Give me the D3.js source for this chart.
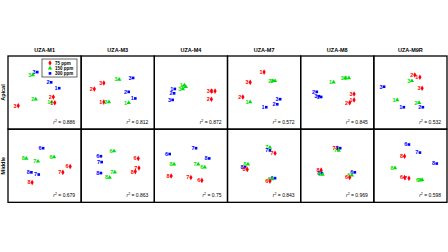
<!DOCTYPE html>
<html>
<head>
<meta charset="utf-8">
<script src="https://cdn.jsdelivr.net/npm/d3@7"></script>
<style>
  body { margin: 0; background: #fff; }
  svg { display: block; font-family: "Liberation Sans", Arial, sans-serif; }
</style>
</head>
<body>
<div id="chart"></div>
<script>
// panel names and row labels
const panels = ["UZA-M1", "UZA-M3", "UZA-M4", "UZA-M7", "UZA-M8", "UZA-M9R"];
const rows = ["Apical", "Middle"];
const concs = ["75 ppm", "150 ppm", "300 ppm"];

// r² values per row
const r2Apical = ["0.886", "0.812", "0.872", "0.572", "0.845", "0.532"];
const r2Middle = ["0.679", "0.863", "0.75", "0.843", "0.969", "0.598"];

// points: [label, concentration index, x, y]  (panel scores, 0-10)
const apical = [
  [["3",2,4.0,2.2],["3",1,3.4,2.6],["2",2,5.9,3.6],["1",2,7.0,4.4],["2",0,6.2,5.6],["2",1,3.8,5.9],["1",1,6.0,6.3],["1",0,6.4,6.4],["3",0,1.4,6.8]],
  [["3",0,3.1,3.7],["3",1,5.2,3.2],["3",2,7.1,3.0],["2",0,1.8,4.5],["2",2,6.5,4.9],["1",2,7.4,5.8],["1",0,3.1,6.3],["2",1,3.8,6.3],["1",1,6.5,6.4]],
  [["1",2,2.8,4.5],["2",2,2.7,5.1],["3",2,2.5,6.0],["1",1,4.1,4.0],["2",1,4.3,4.2],["3",1,3.9,4.5],["3",0,7.8,4.8],["1",0,8.3,4.8],["2",0,7.8,5.9]],
  [["1",0,5.0,2.2],["3",0,3.1,3.6],["2",1,6.2,3.4],["3",1,6.5,3.4],["2",0,2.1,5.6],["1",1,3.1,6.3],["3",2,7.2,5.9],["2",2,6.8,6.6],["1",2,5.3,7.0]],
  [["1",1,4.5,3.6],["3",1,6.1,3.0],["2",1,6.6,3.0],["2",2,2.2,4.9],["3",2,2.5,5.5],["1",2,2.8,5.6],["3",0,7.3,5.2],["1",0,7.3,6.0],["2",0,6.7,6.4]],
  [["2",0,5.6,2.6],["1",0,6.3,2.9],["3",1,5.2,3.4],["3",0,6.6,4.4],["3",2,1.4,4.2],["1",1,3.2,6.0],["1",2,4.1,7.0],["2",1,6.2,6.4],["2",2,6.7,7.0]]
];
const middle = [
  [["6",2,4.8,2.6],["8",1,2.5,4.0],["7",1,4.1,4.4],["6",1,6.3,3.8],["6",0,8.5,5.1],["7",0,7.5,5.9],["8",2,3.2,5.9],["7",2,4.2,6.2],["8",0,3.3,7.3]],
  [["6",1,4.5,3.0],["6",2,2.7,3.7],["7",2,2.8,4.5],["6",0,7.8,4.0],["7",0,7.9,5.3],["8",0,7.4,5.8],["7",1,4.6,5.9],["8",2,2.7,6.0],["8",1,3.9,6.6]],
  [["7",2,5.7,2.6],["6",2,2.1,3.4],["8",2,7.5,4.0],["8",1,2.7,4.8],["7",1,6.0,4.8],["6",1,6.9,5.2],["8",0,2.3,6.4],["7",0,5.0,6.6],["6",0,6.5,7.0]],
  [["7",1,5.8,2.5],["7",2,5.8,2.9],["7",0,6.5,3.3],["8",1,2.8,4.8],["8",2,2.4,5.2],["8",0,2.7,5.5],["6",2,6.5,6.7],["6",1,6.1,6.8],["6",0,5.8,7.1]],
  [["7",0,5.0,2.6],["7",2,5.4,2.6],["7",1,5.2,2.9],["8",0,2.8,5.6],["8",2,2.9,6.0],["8",1,3.0,6.2],["6",2,7.4,5.9],["6",1,7.0,6.3],["6",0,6.7,6.6]],
  [["6",2,4.8,2.1],["7",2,6.3,3.2],["8",0,4.2,3.7],["8",2,8.6,4.7],["8",1,2.9,5.3],["6",0,4.2,6.6],["7",0,4.8,6.7],["6",1,6.4,7.0],["7",1,6.6,6.9]]
];

const colors = ["#ff0000", "#00dd00", "#0000ff"];
const shapes = [d3.symbolDiamond, d3.symbolTriangle, d3.symbolSquare];
const sizes = [9, 8, 7];

const W = 448, H = 252;
const margin = { top: 56, left: 8, right: 1, bottom: 50 };
const pw = (W - margin.left - margin.right) / panels.length;

const svg = d3.select("#chart").append("svg")
  .attr("width", W).attr("height", H);

const col = d3.scaleBand().domain(panels).range([margin.left, W - margin.right]);
const row = d3.scaleBand().domain(rows).range([margin.top, margin.top + 2 * pw]);

const x = d3.scaleLinear().domain([0, 10]).range([0, pw]);
const y = d3.scaleLinear().domain([0, 10]).range([0, pw]);

// titles
svg.selectAll("text.title")
  .data(panels).enter().append("text")
  .attr("class", "title")
  .attr("x", d => col(d) + pw / 2)
  .attr("y", margin.top - 4)
  .attr("text-anchor", "middle")
  .attr("font-size", "5.5px")
  .attr("font-weight", "bold")
  .text(d => d);

// row labels
svg.selectAll("text.rowlab")
  .data(rows).enter().append("text")
  .attr("class", "rowlab")
  .attr("transform", d => "translate(5," + (row(d) + pw / 2) + ") rotate(-90)")
  .attr("text-anchor", "middle")
  .attr("font-size", "5.5px")
  .attr("font-weight", "bold")
  .text(d => d);

const allData = [apical, middle];
const allR2 = [r2Apical, r2Middle];

rows.forEach((r, ri) => {
  panels.forEach((p, pi) => {
    const g = svg.append("g")
      .attr("transform", "translate(" + col(p) + "," + row(r) + ")");

    g.append("rect")
      .attr("width", pw).attr("height", pw)
      .attr("fill", "none").attr("stroke", "#000").attr("stroke-width", 1.3);

    const pts = g.selectAll("g.pt")
      .data(allData[ri][pi]).enter().append("g")
      .attr("class", "pt")
      .attr("transform", d => "translate(" + x(d[2]) + "," + y(d[3]) + ")");

    pts.append("text")
      .attr("x", -1.6).attr("y", 1.9)
      .attr("text-anchor", "end")
      .attr("font-size", "5.5px")
      .attr("font-weight", "bold")
      .attr("fill", d => colors[d[1]])
      .text(d => d[0]);

    pts.append("path")
      .attr("d", d => d3.symbol(shapes[d[1]], sizes[d[1]])())
      .attr("fill", d => colors[d[1]]);

    const rt = g.append("text")
      .attr("x", pw - 6).attr("y", pw - 5)
      .attr("text-anchor", "end")
      .attr("font-size", "5px");
    rt.append("tspan").attr("font-style", "italic").text("r");
    rt.append("tspan").attr("dy", -2).attr("font-size", "3.5px").text("2");
    rt.append("tspan").attr("dy", 2).text(" = " + allR2[ri][pi]);
  });
});

// legend in first panel
const lg = svg.append("g")
  .attr("transform", "translate(" + (col(panels[0]) + 34) + "," + (row(rows[0]) + 3) + ")");
lg.append("rect").attr("width", 35).attr("height", 18)
  .attr("fill", "#fff").attr("stroke", "#000").attr("stroke-width", 0.6);
const li = lg.selectAll("g.li").data(concs).enter().append("g")
  .attr("class", "li")
  .attr("transform", (d, i) => "translate(8," + (4 + i * 5.2) + ")");
li.append("path")
  .attr("d", (d, i) => d3.symbol(shapes[i], sizes[i])())
  .attr("fill", (d, i) => colors[i]);
li.append("text")
  .attr("x", 5).attr("y", 1.6)
  .attr("font-size", "4.5px")
  .attr("font-weight", "bold")
  .text(d => d);
</script>
</body>
</html>
